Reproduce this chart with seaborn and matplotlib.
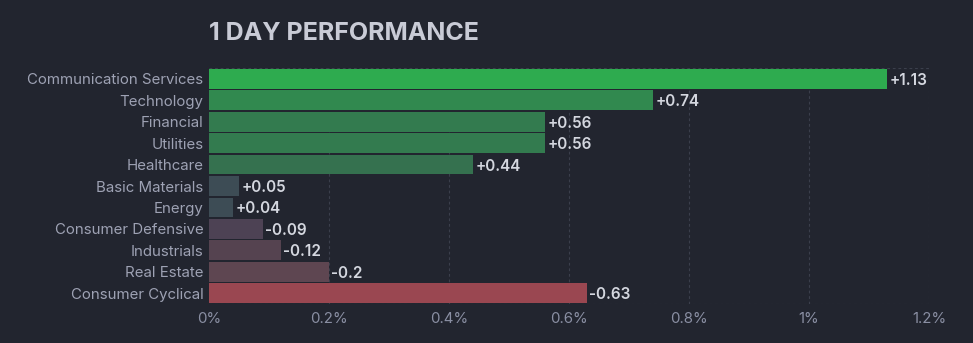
import matplotlib
matplotlib.use("Agg")
import matplotlib.pyplot as plt
import seaborn as sns
import pandas as pd

sectors = ["Communication Services", "Technology", "Financial", "Utilities", "Healthcare",
           "Basic Materials", "Energy", "Consumer Defensive", "Industrials", "Real Estate",
           "Consumer Cyclical"]
changes = [1.13, 0.74, 0.56, 0.56, 0.44, 0.05, 0.04, -0.09, -0.12, -0.2, -0.63]
bar_colors = ["#2eab4f", "#31894f", "#337b4f", "#337b4f", "#35714f", "#3d4c55", "#3d4c55",
              "#4d4254", "#554350", "#5e4651", "#9a4751"]
xticks = [0, 0.2, 0.4, 0.6, 0.8, 1.0, 1.2]
xticklabels = ["0%", "0.2%", "0.4%", "0.6%", "0.8%", "1%", "1.2%"]

df = pd.DataFrame({"sector": sectors, "change": changes, "mag": [abs(c) for c in changes]})

BG = "#22252f"
sns.set_theme(style="dark")
plt.rcParams["font.family"] = ["Inter", "DejaVu Sans"]

fig = plt.figure(figsize=(9.73, 3.43), dpi=100, facecolor=BG)
ax = fig.add_axes([209/973, 1-304/343, (929-209)/973, (304-68)/343])
ax.set_facecolor(BG)

sns.barplot(data=df, x="mag", y="sector", hue="sector", palette=bar_colors, legend=False,
            orient="h", width=0.92, ax=ax, saturation=1, linewidth=0, edgecolor="none")

for i, c in enumerate(changes):
    lab = f"+{c:g}" if c > 0 else f"-{abs(c):g}"
    ax.text(abs(c) + 0.004, i, lab, va="center_baseline", ha="left", color="#d4d7df",
            fontsize=11, fontweight="semibold")

ax.set_xlim(0, 1.2)
ax.set_ylim(10.5, -0.5)
ax.set_xticks(xticks)
ax.set_xticklabels(xticklabels)
ax.set_xlabel("")
ax.set_ylabel("")
ax.tick_params(axis="x", colors="#8a8fa3", labelsize=10.8, length=0, pad=6)
ax.tick_params(axis="y", colors="#9ea2b4", labelsize=10.8, length=0, pad=4)
for lbl in ax.get_xticklabels():
    lbl.set_color("#8a8fa3")
for lbl in ax.get_yticklabels():
    lbl.set_color("#9ea2b4")
ax.grid(False)
for x in xticks[1:]:
    ax.axvline(x, color="#3b3f4c", lw=0.8, ls=(0, (2.5, 2.5)), zorder=0)
ax.axhline(-0.5, color="#3b3f4c", lw=0.8, ls=(0, (2.5, 2.5)), zorder=0)
ax.axhline(10.5, color="#3b3f4c", lw=0.8, ls=(0, (2.5, 2.5)), zorder=0)
for s in ax.spines.values():
    s.set_visible(False)

fig.text(209/973, 1-33/343, "1 DAY PERFORMANCE", color="#c9cbd6", fontsize=18,
         fontweight="bold", va="center", ha="left")

fig.savefig("out.png", dpi=100, facecolor=BG)
